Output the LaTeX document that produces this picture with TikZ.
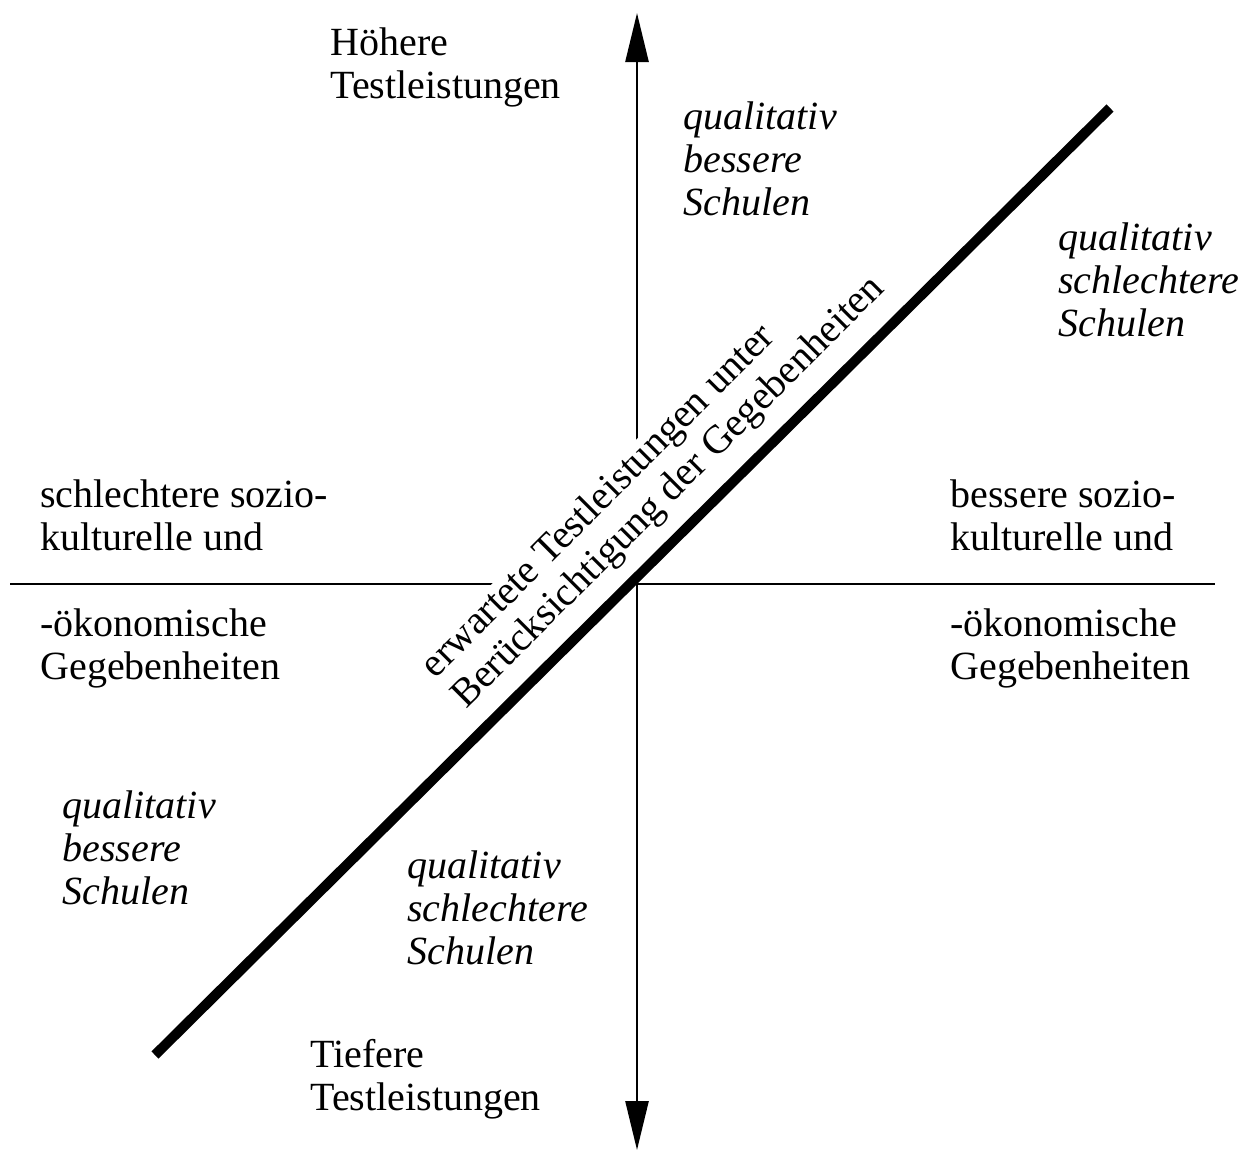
\documentclass[tikz,border=0pt]{standalone}
\usepackage{fontspec}
\setmainfont{Liberation Serif}
\usetikzlibrary{
  arrows.meta,
  positioning,
}
\tikzset{
  >={Triangle[length=24.5pt,width=11.5pt]},
  achse/.style={line width=1.3pt},
  erwartet/.style={line width=5pt},
  rmtext/.style={anchor=base west,inner sep=0pt,align=left,font=\fontsize{20}{21.5}\selectfont},
  ittext/.style={rmtext,font=\fontsize{20}{21.5}\selectfont\itshape},
}

\begin{document}
\begin{tikzpicture}[x=0.5pt,y=-0.5pt]
        \useasboundingbox (0,0) rectangle (1247,1151);
        \coordinate (oben)   at (637,13);
        \coordinate (unten)  at (637,1150);
        \coordinate (links)  at (10,584);
        \coordinate (rechts) at (1215,584);
        \coordinate (d0)     at (155,1055);
        \coordinate (d1)     at (1110,108);

        % Achsen
        \draw[achse,<->] (unten) -- (oben);
        \draw[achse] (links) -- (rechts);

        % (Position = Grundlinie der letzten Zeile)
        \node[rmtext] (hoch)  at (330,98)   {Höhere\\Testleistungen};
        \node[rmtext] (tief)  at (310,1110) {Tiefere\\Testleistungen};
        \node[rmtext] (sl)    at (40,550)   {schlechtere sozio-\\kulturelle und};
        \node[rmtext] (sl2)   at (40,679)   {-ökonomische\\Gegebenheiten};
        \node[rmtext] (bs)    at (950,550)  {bessere sozio-\\kulturelle und};
        \node[rmtext] (bs2)   at (950,679)  {-ökonomische\\Gegebenheiten};

        \node[ittext] (q1) at (683,215)  {qualitativ\\bessere\\Schulen};
        \node[ittext] (q2) at (1058,336) {qualitativ\\schlechtere\\Schulen};
        \node[ittext] (q3) at (62,904)   {qualitativ\\bessere\\Schulen};
        \node[ittext] (q4) at (407,964)  {qualitativ\\schlechtere\\Schulen};

        % Diagonale mit Beschriftung
        \node[rmtext,anchor=south west,fill=white,rotate=45] (erw) at (486,730)
          {erwartete Testleistungen unter\\Berücksichtigung der Gegebenheiten\rule[-14pt]{0pt}{14pt}};
        \draw[erwartet] (d0) -- (d1);
\end{tikzpicture}
\end{document}
